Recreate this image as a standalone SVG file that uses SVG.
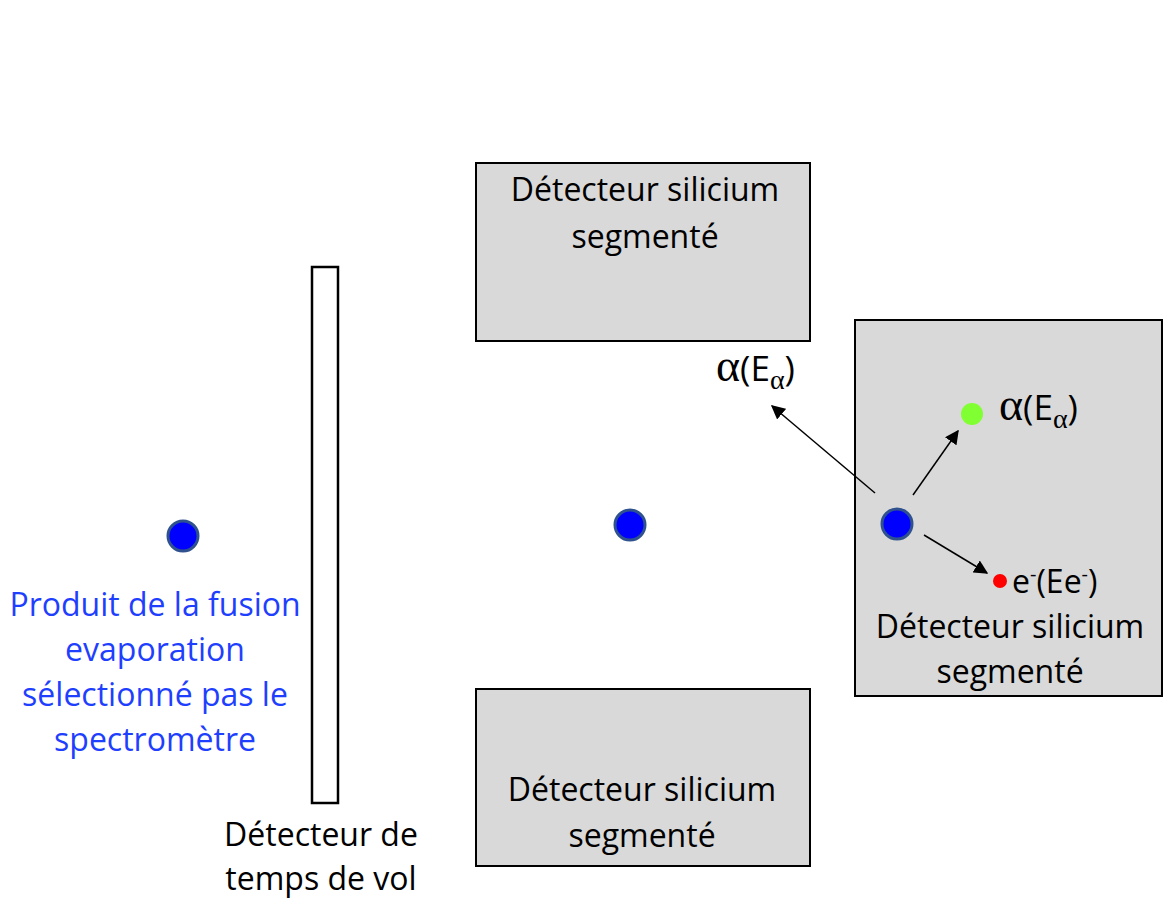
<svg xmlns="http://www.w3.org/2000/svg" width="1163" height="907" viewBox="0 0 1163 907">
<defs>
<style>
.box{fill:#d9d9d9;stroke:#000;stroke-width:2}
.t{font-family:"Open Sans","Liberation Sans",sans-serif;font-size:32px;fill:#000;text-anchor:middle}
.a{font-size:35px;text-anchor:start}
.blue{fill:#1f3fff}
.b{fill:#0000ff;stroke:#2f528f;stroke-width:3}
.ln{stroke:#000;stroke-width:1.5;fill:none;marker-end:url(#ah)}
.g{font-family:"Liberation Serif",serif}
</style>
<marker id="ah" viewBox="0 0 10 10" refX="9" refY="5" markerWidth="14" markerHeight="14" markerUnits="userSpaceOnUse" orient="auto"><path d="M0,0 L10,5 L0,10 z" fill="#000"/></marker>
</defs>
<rect width="1163" height="907" fill="#fff"/>
<g id="tof">
<rect x="312" y="267" width="26" height="536" fill="#fff" stroke="#000" stroke-width="2.5"/>
<text class="t" x="321" y="846">Détecteur de</text>
<text class="t" x="321" y="890">temps de vol</text>
</g>
<g id="top">
<rect class="box" x="476" y="163" width="334" height="178"/>
<text class="t" x="645" y="201">Détecteur silicium</text>
<text class="t" x="645" y="248">segmenté</text>
</g>
<g id="bottom">
<rect class="box" x="476" y="689" width="334" height="177"/>
<text class="t" x="642" y="801">Détecteur silicium</text>
<text class="t" x="642" y="847">segmenté</text>
</g>
<g id="right">
<rect class="box" x="855" y="320" width="307" height="376"/>
<text class="t" x="1010" y="638">Détecteur silicium</text>
<text class="t" x="1010" y="683">segmenté</text>
</g>
<g id="source">
<circle class="b" cx="183" cy="536" r="15"/>
<text class="t blue" x="155" y="616">Produit de la fusion</text>
<text class="t blue" x="155" y="661">evaporation</text>
<text class="t blue" x="155" y="706">sélectionné pas le</text>
<text class="t blue" x="155" y="751">spectromètre</text>
</g>
<g id="mid"><circle class="b" cx="630" cy="525" r="15"/></g>
<g id="implant"><circle class="b" cx="897" cy="524" r="15"/></g>
<g id="alphaDot"><circle cx="972" cy="414" r="11" fill="#80ff33"/>
<text class="t a" x="999" y="420"><tspan class="g" font-size="46">α</tspan>(E<tspan class="g" font-size="28" dy="8">α</tspan><tspan dy="-8">)</tspan></text>
</g>
<g id="eDot"><circle cx="1000" cy="581" r="7" fill="#ff0000"/>
<text class="t" x="1012" y="593" style="text-anchor:start">e<tspan font-size="20" dy="-12">-</tspan><tspan dy="12">(Ee</tspan><tspan font-size="20" dy="-12">-</tspan><tspan dy="12">)</tspan></text>
</g>
<g id="alphaOut">
<text class="t a" x="716" y="381"><tspan class="g" font-size="46">α</tspan>(E<tspan class="g" font-size="28" dy="8">α</tspan><tspan dy="-8">)</tspan></text>
</g>
<g id="connectors">
<line class="ln" x1="875" y1="493" x2="772" y2="406"/>
<line class="ln" x1="913" y1="495" x2="958" y2="431"/>
<line class="ln" x1="924" y1="535" x2="987" y2="573"/>
</g>
</svg>
